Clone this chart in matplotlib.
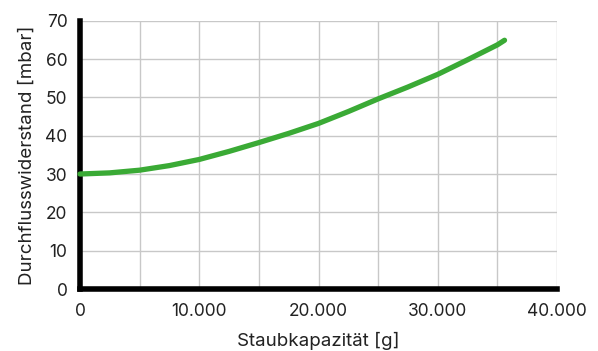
import matplotlib
matplotlib.use("Agg")
import matplotlib.pyplot as plt
from matplotlib.ticker import FuncFormatter, MultipleLocator

# Dust capacity [g] vs. flow resistance [mbar]
capacity = [0, 2500, 5000, 7500, 10000, 12500, 15000, 17500, 20000,
            22500, 25000, 27500, 30000, 32500, 35000, 35600]
resistance = [30.0, 30.3, 31.0, 32.2, 33.8, 35.9, 38.2, 40.6, 43.2,
              46.3, 49.6, 52.7, 56.0, 59.8, 63.7, 64.9]

x_ticks = [0, 10000, 20000, 30000, 40000]
y_ticks = [0, 10, 20, 30, 40, 50, 60, 70]
x_label = "Staubkapazität [g]"
y_label = "Durchflusswiderstand [mbar]"

plt.rcParams['font.family'] = ['Inter', 'DejaVu Sans']

fig = plt.figure(figsize=(5.98, 3.51), dpi=100)
ax = fig.add_axes([80 / 598, 1 - 289 / 351, (557 - 80) / 598, (289 - 20.7) / 351])

ax.plot(capacity, resistance, color="#3aaa35", lw=3.8, solid_capstyle="round",
        zorder=3, clip_on=False)

ax.set_xlim(0, 40000)
ax.set_ylim(0, 70)
ax.set_xticks(x_ticks)
ax.set_yticks(y_ticks)
ax.xaxis.set_minor_locator(MultipleLocator(5000))
ax.xaxis.set_major_formatter(FuncFormatter(lambda v, p: f"{int(v):,}".replace(",", ".")))

ax.grid(True, which="both", axis="x", color="#c8c8c8", lw=1.0)
ax.grid(True, which="major", axis="y", color="#c8c8c8", lw=1.0)
ax.set_axisbelow(True)

for side in ("top", "right"):
    ax.spines[side].set_visible(False)
for side in ("left", "bottom"):
    ax.spines[side].set_color("black")
    ax.spines[side].set_linewidth(4)
    ax.spines[side].set_capstyle("projecting")

ax.tick_params(axis="both", which="both", length=0, labelsize=12.5, colors="#222222")
ax.tick_params(axis="x", pad=10)
ax.tick_params(axis="y", pad=9)

ax.set_xlabel(x_label, fontsize=13.5, color="#222222", labelpad=9)
ax.set_ylabel(y_label, fontsize=13.5, color="#222222", labelpad=7)

fig.savefig("out.png", dpi=100)
